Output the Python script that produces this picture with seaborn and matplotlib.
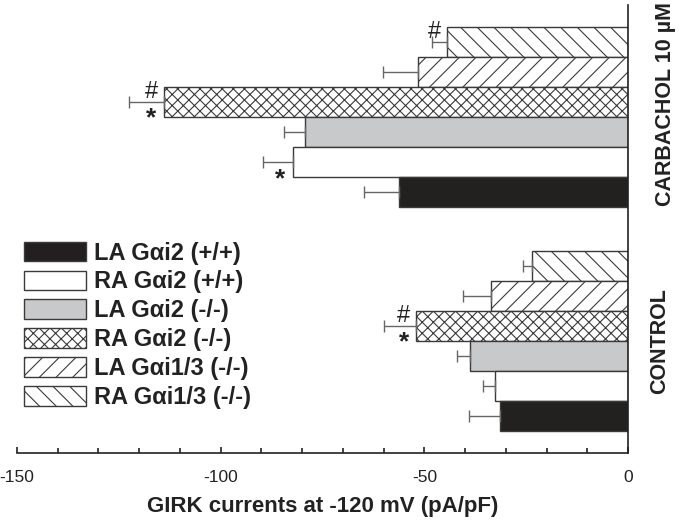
# courants GIRK, barres horizontales par génotype, carbachol vs contrôle

import numpy as np
import pandas as pd
import matplotlib
matplotlib.use('Agg')
import matplotlib.pyplot as plt
import matplotlib.transforms as mtransforms
from matplotlib.patches import Patch
from matplotlib.ticker import MultipleLocator
import seaborn as sns

conditions = ['CARBACHOL 10 µM', 'CONTROL']
genotypes = ['LA Gαi2 (+/+)', 'RA Gαi2 (+/+)', 'LA Gαi2 (-/-)',
             'RA Gαi2 (-/-)', 'LA Gαi1/3 (-/-)', 'RA Gαi1/3 (-/-)']

# valeurs (pA/pF), même ordre que genotypes
carbachol_mean = [-56.1, -82.3, -79.2, -114.0, -51.5, -44.5]
carbachol_sem = [8.8, 7.3, 5.3, 8.4, 8.7, 3.5]
control_mean = [-31.5, -32.6, -38.8, -52.0, -33.7, -23.5]
control_sem = [7.5, 3.0, 3.2, 8.0, 6.9, 2.4]

# significativité: (condition, génotype, symbole)
marks = [
    ('CARBACHOL 10 µM', 'RA Gαi1/3 (-/-)', '#'),
    ('CARBACHOL 10 µM', 'RA Gαi2 (-/-)', '#'),
    ('CARBACHOL 10 µM', 'RA Gαi2 (-/-)', '*'),
    ('CARBACHOL 10 µM', 'RA Gαi2 (+/+)', '*'),
    ('CONTROL', 'RA Gαi2 (-/-)', '#'),
    ('CONTROL', 'RA Gαi2 (-/-)', '*'),
]

colors = {'LA Gαi2 (+/+)': '#231f20', 'RA Gαi2 (+/+)': 'white', 'LA Gαi2 (-/-)': '#c8c9cb',
          'RA Gαi2 (-/-)': 'white', 'LA Gαi1/3 (-/-)': 'white', 'RA Gαi1/3 (-/-)': 'white'}
hatches = {'LA Gαi2 (+/+)': '', 'RA Gαi2 (+/+)': '', 'LA Gαi2 (-/-)': '',
           'RA Gαi2 (-/-)': 'xxx', 'LA Gαi1/3 (-/-)': '//', 'RA Gαi1/3 (-/-)': '\\\\'}

df = pd.DataFrame({
    'condition': [conditions[0]] * 6 + [conditions[1]] * 6,
    'genotype': genotypes * 2,
    'value': carbachol_mean + control_mean,
    'sem': carbachol_sem + control_sem,
})

sns.set_theme(style='ticks')
plt.rcParams['font.family'] = ['Liberation Sans', 'DejaVu Sans']
plt.rcParams['axes.unicode_minus'] = False
plt.rcParams['hatch.linewidth'] = 0.8
edge = '#3a3a3a'
ink = '#222222'

fig = plt.figure(figsize=(6.79, 5.27), dpi=100)
ax = fig.add_axes([17 / 679, 74 / 527, 611 / 679, 448 / 527])

# RA Gαi1/3 en haut de chaque groupe -> ordre inversé
hue_order = genotypes[::-1]
sns.barplot(data=df, y='condition', x='value', hue='genotype', order=conditions,
            hue_order=hue_order, orient='h', palette=colors, errorbar=None,
            width=0.804, edgecolor=edge, linewidth=1, legend=False, ax=ax)

for container, g in zip(ax.containers, hue_order):
    for bar, cond in zip(container, conditions):
        bar.set_hatch(hatches[g])
        row = df[(df['condition'] == cond) & (df['genotype'] == g)].iloc[0]
        y = bar.get_y() + bar.get_height() / 2
        ax.errorbar(bar.get_width(), y, xerr=[[row['sem']], [0]], fmt='none',
                    ecolor='#666666', elinewidth=1, capsize=4, capthick=1, zorder=1)
        for c, gg, sym in marks:
            if c == cond and gg == g:
                if sym == '#':
                    ax.text(bar.get_width() - 3, y - 0.045, sym, ha='center', va='center',
                            fontsize=17, color=ink)
                else:
                    ax.text(bar.get_width() - 3, y + 0.075, sym, ha='center', va='center',
                            fontsize=19, fontweight='bold', color=ink)

ax.set_xlim(-150, 0)
ax.set_ylim(1.5, -0.5)
ax.xaxis.set_major_locator(MultipleLocator(50))
ax.xaxis.set_minor_locator(MultipleLocator(10))
ax.tick_params(axis='x', which='both', direction='in', width=1.2, color=ink,
               labelsize=12.5, pad=12, labelcolor=ink)
ax.tick_params(axis='x', which='major', length=4.5)
ax.tick_params(axis='x', which='minor', length=3.5)

# axe de droite: traits aux limites des groupes, noms des groupes en vertical
ax.yaxis.tick_right()
ax.set_yticks([-0.5, 0.5, 1.5], labels=['', '', ''])
ax.tick_params(axis='y', which='major', direction='inout', length=8, width=1.2,
               color=ink, right=True, left=False)
ax.set_ylabel('')
trans = mtransforms.blended_transform_factory(ax.transAxes, ax.transData)
label_shift = {'CARBACHOL 10 µM': (1 + 27 / 611, -0.06), 'CONTROL': (1 + 21 / 611, 0.0)}
for i, cond in enumerate(conditions):
    xa, dy = label_shift[cond]
    ax.text(xa, i + dy, cond, transform=trans, rotation=90, ha='left', va='center',
            fontsize=15.5, fontweight='bold', color=ink)

sns.despine(ax=ax, left=True, top=True, right=False, bottom=False)
for s in ['right', 'bottom']:
    ax.spines[s].set_linewidth(1.2)
    ax.spines[s].set_color(ink)

ax.set_xlabel('GIRK currents at -120 mV (pA/pF)', fontsize=16, fontweight='bold',
              labelpad=8, color=ink)

handles = [Patch(facecolor=colors[g], edgecolor=edge, hatch=hatches[g], label=g) for g in genotypes]
leg = ax.legend(handles=handles, loc='upper left', bbox_to_anchor=(0.012, 0.472),
                frameon=False, fontsize=17, handlelength=2.62, handleheight=0.89,
                handletextpad=0.31, labelspacing=0.25, borderpad=0, borderaxespad=0)
for t in leg.get_texts():
    t.set_fontweight('bold')
    t.set_color(ink)

fig.savefig('out.png', dpi=100)
